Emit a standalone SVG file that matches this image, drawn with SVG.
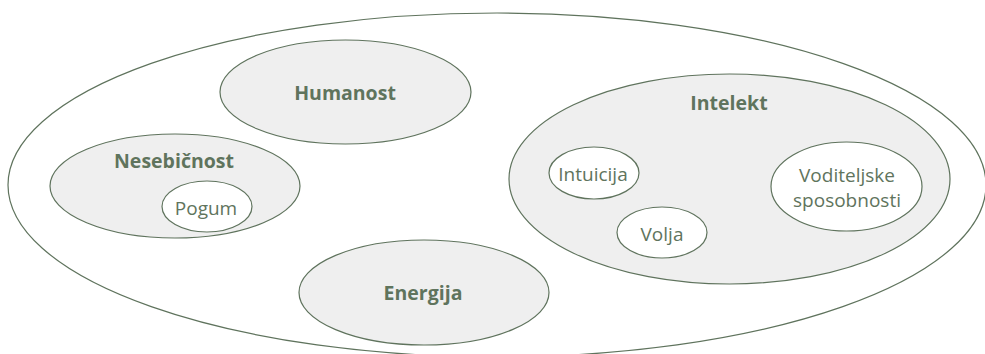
<svg xmlns="http://www.w3.org/2000/svg" width="985" height="354" viewBox="0 0 985 354">
<style>
.e{stroke:#5f735d;stroke-width:1.2}
.g{fill:#efefef}
.w{fill:#ffffff}
.o{fill:none}
text{font-family:"Open Sans","Noto Sans","Liberation Sans",sans-serif;fill:#5f745d;text-anchor:middle}
.b{font-weight:bold;font-size:19.5px}
.r{font-size:19px}
</style>
<g id="outer"><ellipse class="e o" cx="497" cy="185" rx="489" ry="172"/></g>
<g id="humanost"><ellipse class="e g" cx="345.5" cy="92" rx="125.5" ry="52"/><text class="b" x="345" y="100">Humanost</text></g>
<g id="nesebicnost"><ellipse class="e g" cx="175" cy="186" rx="125" ry="52"/><text class="b" x="174" y="168">Nesebičnost</text></g>
<g id="pogum"><ellipse class="e w" cx="207" cy="206.5" rx="45" ry="25.5"/><text class="r" x="206" y="215">Pogum</text></g>
<g id="energija"><ellipse class="e g" cx="424" cy="292.5" rx="125" ry="52.5"/><text class="b" x="423" y="300">Energija</text></g>
<g id="intelekt"><ellipse class="e g" cx="729.5" cy="179" rx="220.5" ry="105"/><text class="b" x="729" y="110">Intelekt</text></g>
<g id="intuicija"><ellipse class="e w" cx="594" cy="173" rx="45" ry="26"/><text class="r" x="593" y="181">Intuicija</text></g>
<g id="volja"><ellipse class="e w" cx="662" cy="232.5" rx="45" ry="25.5"/><text class="r" x="662" y="241">Volja</text></g>
<g id="voditeljske"><ellipse class="e w" cx="846.5" cy="186.5" rx="75.5" ry="44.5"/><text class="r" x="847" y="182">Voditeljske</text><text class="r" x="847" y="207">sposobnosti</text></g>
<g id="connectors"/>
</svg>
